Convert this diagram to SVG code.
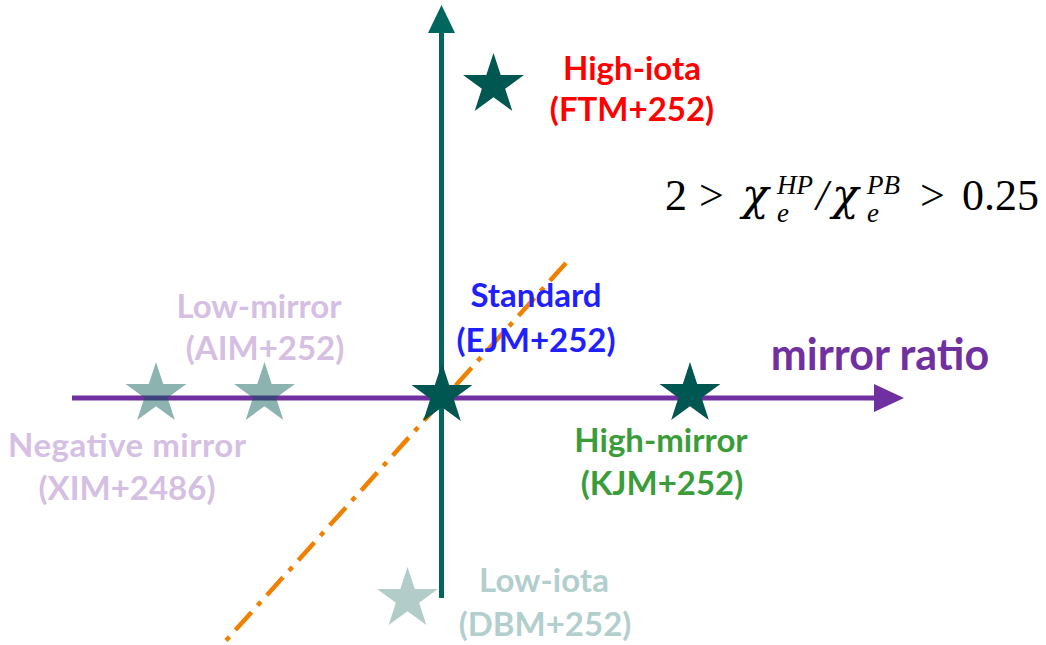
<svg xmlns="http://www.w3.org/2000/svg" width="1046" height="645" viewBox="0 0 1046 645">
<style>
.lbl{font-family:Lato,"Open Sans",sans-serif;font-weight:bold;font-size:33px;text-anchor:middle}
.red{fill:#FF0000}.blue{fill:#1F1FFF}.green{fill:#3A9D3A}.lav{fill:#D5BFE2}.pale{fill:#B3CFCD}
.math{font-family:"Liberation Serif","DejaVu Serif",serif;font-size:44px;fill:#000}
.chi{font-family:"DejaVu Serif","Liberation Serif",serif;font-style:italic;font-size:44px;fill:#000}
.it{font-style:italic}
.sup{font-size:27px;font-style:italic}
</style>
<defs>
<path id="star" d="M0,-32 L7.19,-9.89 L30.43,-9.89 L11.63,3.78 L18.81,25.89 L0,12.23 L-18.81,25.89 L-11.63,3.78 L-30.43,-9.89 L-7.19,-9.89 Z"/>
</defs>
<rect width="1046" height="645" fill="#fff"/>
<g id="connectors">
<line x1="72" y1="398" x2="878" y2="398" stroke="#7030A0" stroke-width="5"/>
<polygon points="874,384 904,398 874,412" fill="#7030A0"/>
<line x1="441.5" y1="598" x2="441.5" y2="30" stroke="#00665E" stroke-width="5"/>
<polygon points="428,33 441.5,5 455,33" fill="#00665E"/>
<line x1="566" y1="263" x2="222" y2="645" stroke="#F08000" stroke-width="4.5" stroke-dasharray="24 9 5 9"/>
</g>
<g id="high-iota"><use href="#star" x="493.5" y="85" fill="#005650"/>
<text class="lbl red" x="632" y="80">High-iota</text><text class="lbl red" x="632" y="121">(FTM+252)</text></g>
<g id="standard"><use href="#star" x="442" y="395" fill="#005650"/>
<text class="lbl blue" x="536" y="307">Standard</text><text class="lbl blue" x="536" y="352">(EJM+252)</text></g>
<g id="high-mirror"><use href="#star" x="690" y="394" fill="#005650"/>
<text class="lbl green" x="661" y="452">High-mirror</text><text class="lbl green" x="662" y="495">(KJM+252)</text></g>
<g id="low-mirror"><use href="#star" x="264.5" y="394" fill="#005650" fill-opacity="0.45"/>
<text class="lbl lav" x="259" y="318">Low-mirror</text><text class="lbl lav" x="265" y="360">(AIM+252)</text></g>
<g id="negative-mirror"><use href="#star" x="156" y="394" fill="#005650" fill-opacity="0.45"/>
<text class="lbl lav" x="127" y="457" textLength="238">Negative mirror</text><text class="lbl lav" x="127" y="500">(XIM+2486)</text></g>
<g id="low-iota"><use href="#star" x="407.5" y="599" fill="#005650" fill-opacity="0.3"/>
<text class="lbl pale" x="544" y="592">Low-iota</text><text class="lbl pale" x="545" y="636">(DBM+252)</text></g>
<g id="axis-label"><text x="880" y="370" style="font-family:Lato,'Open Sans',sans-serif;font-weight:bold;font-size:43px;fill:#7030A0;text-anchor:middle">mirror ratio</text></g>
<g id="formula">
<text class="math" x="665" y="210">2</text>
<text class="math" x="699" y="210">&gt;</text>
<text class="chi" x="742" y="210">χ</text>
<text class="math sup" x="777" y="194">HP</text>
<text class="math sup" x="777" y="222">e</text>
<text class="math it" x="816" y="210">/</text>
<text class="chi" x="832" y="210">χ</text>
<text class="math sup" x="867" y="194">PB</text>
<text class="math sup" x="867" y="222">e</text>
<text class="math" x="920" y="210">&gt;</text>
<text class="math" x="962" y="210">0.25</text>
</g>
</svg>
